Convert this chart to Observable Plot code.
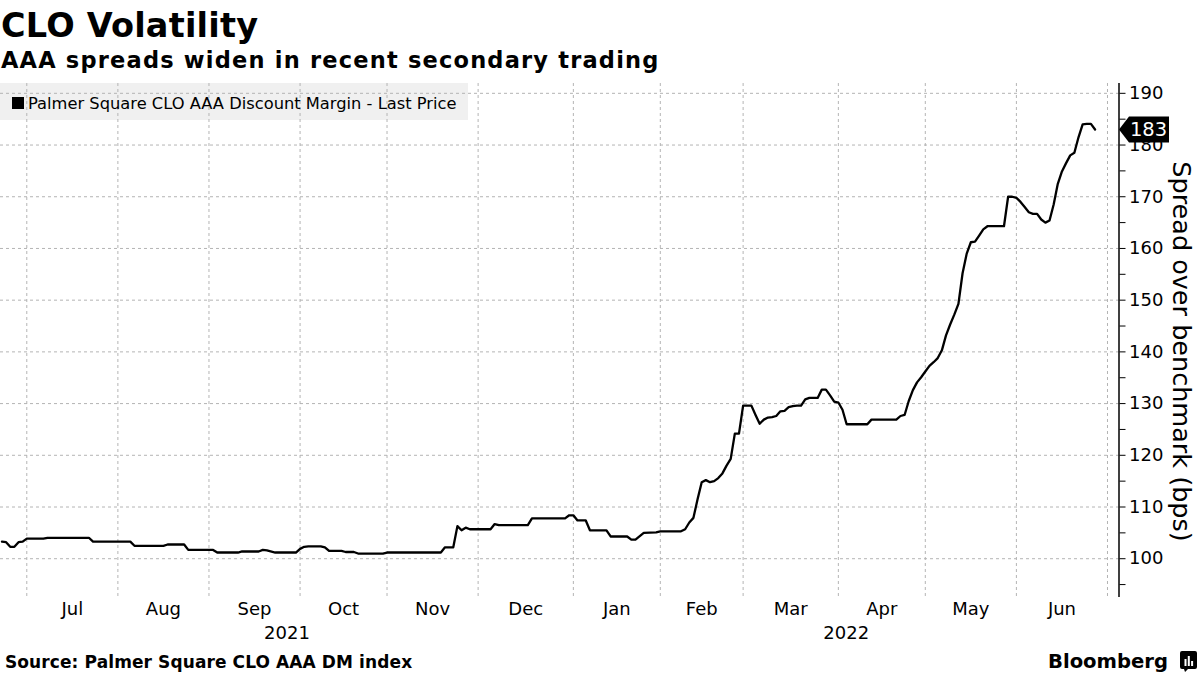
<!DOCTYPE html>
<html>
<head>
<meta charset="utf-8">
<script src="https://cdn.jsdelivr.net/npm/d3@7"></script>
<script src="https://cdn.jsdelivr.net/npm/@observablehq/plot@0.6"></script>
<style>
  html, body { margin: 0; padding: 0; background: #fff; }
  #wrap { position: relative; width: 1200px; height: 675px; overflow: hidden; font-family: "DejaVu Sans", sans-serif; }
  #bg, #fg { position: absolute; left: 0; top: 0; }
  #chart { position: absolute; left: 0; top: 0; }
  #fg { pointer-events: none; }
</style>
</head>
<body>
<div id="wrap">
  <svg id="bg" width="1200" height="675">
    <rect x="0" y="83" width="468" height="37" fill="#f0f0f0"></rect>
  </svg>
  <div id="chart"></div>
  <svg id="fg" width="1200" height="675" font-family="DejaVu Sans, sans-serif">
    <text x="1" y="37" font-size="33.5" font-weight="bold" letter-spacing="0.2">CLO Volatility</text>
    <text x="1" y="68" font-size="22.5" font-weight="bold" letter-spacing="1.2">AAA spreads widen in recent secondary trading</text>
    <rect x="12" y="97" width="12" height="12" fill="#000"></rect>
    <text x="28" y="108.5" font-size="16.3">Palmer Square CLO AAA Discount Margin - Last Price</text>
    <text x="5" y="668" font-size="17" font-weight="bold" letter-spacing="0.1">Source: Palmer Square CLO AAA DM index</text>
    <text x="1048" y="668" font-size="19.6" font-weight="bold">Bloomberg</text>
    <g>
      <path d="M1182,651 h13 a2,2 0 0 1 2,2 v14 a2,2 0 0 1 -2,2 h-7 l-3,3 l-1,-3 h-2 a2,2 0 0 1 -2,-2 v-14 a2,2 0 0 1 2,-2 z" fill="#000"></path>
      <rect x="1184.5" y="659" width="2" height="7" fill="#fff"></rect>
      <rect x="1187.8" y="656" width="2" height="10" fill="#fff"></rect>
      <rect x="1191.1" y="661" width="2" height="5" fill="#fff"></rect>
    </g>
  </svg>
</div>
<script>
// ---- data ----
const dates = [
"2021-06-23","2021-06-24","2021-06-25","2021-06-28","2021-06-29","2021-06-30",
"2021-07-01","2021-07-07","2021-07-08","2021-07-22","2021-07-23",
"2021-08-05","2021-08-06","2021-08-17","2021-08-18","2021-08-24","2021-08-25",
"2021-09-02","2021-09-03","2021-09-10","2021-09-13","2021-09-17","2021-09-20","2021-09-21","2021-09-23","2021-09-30",
"2021-10-01","2021-10-04","2021-10-05","2021-10-08","2021-10-11","2021-10-12","2021-10-15","2021-10-18","2021-10-20","2021-10-21","2021-10-29",
"2021-11-01","2021-11-18","2021-11-19","2021-11-23","2021-11-24","2021-11-25","2021-11-26","2021-11-29",
"2021-12-06","2021-12-07","2021-12-08","2021-12-17","2021-12-20","2021-12-30","2021-12-31",
"2022-01-03","2022-01-04","2022-01-06","2022-01-07","2022-01-13","2022-01-14","2022-01-20","2022-01-21","2022-01-24","2022-01-26","2022-01-31",
"2022-02-01","2022-02-08","2022-02-09","2022-02-10","2022-02-11","2022-02-14","2022-02-15","2022-02-16","2022-02-17","2022-02-18","2022-02-21","2022-02-22","2022-02-23","2022-02-24","2022-02-25","2022-02-28",
"2022-03-01","2022-03-02","2022-03-03","2022-03-04","2022-03-07","2022-03-08","2022-03-09","2022-03-10","2022-03-11","2022-03-14","2022-03-15","2022-03-16","2022-03-17","2022-03-18","2022-03-21","2022-03-22","2022-03-23","2022-03-24","2022-03-25","2022-03-28","2022-03-29","2022-03-30","2022-03-31",
"2022-04-01","2022-04-04","2022-04-05","2022-04-12","2022-04-13","2022-04-21","2022-04-22","2022-04-25","2022-04-26","2022-04-27","2022-04-28","2022-04-29",
"2022-05-02","2022-05-03","2022-05-04","2022-05-05","2022-05-06","2022-05-09","2022-05-10","2022-05-11","2022-05-12","2022-05-13","2022-05-16","2022-05-17","2022-05-18","2022-05-19","2022-05-20","2022-05-23","2022-05-27","2022-05-30","2022-05-31",
"2022-06-01","2022-06-02","2022-06-03","2022-06-06","2022-06-07","2022-06-08","2022-06-09","2022-06-10","2022-06-13","2022-06-14","2022-06-15","2022-06-16","2022-06-17","2022-06-20","2022-06-21","2022-06-22","2022-06-23","2022-06-24","2022-06-27","2022-06-28"
];
const values = [
103.3,103.2,102.3,102.3,103.2,103.3,
103.9,103.9,104.05,104.05,103.3,
103.3,102.5,102.5,102.75,102.75,101.7,
101.7,101.2,101.2,101.4,101.4,101.7,101.6,101.2,101.2,
101.9,102.3,102.4,102.4,102.2,101.5,101.5,101.3,101.3,101.0,101.0,
101.2,101.2,102.2,102.2,106.3,105.5,106.0,105.7,
105.7,106.7,106.5,106.5,107.8,107.8,108.4,
108.4,107.4,107.4,105.5,105.5,104.3,104.3,103.7,103.7,105.0,105.1,
105.3,105.3,105.7,107.0,107.9,111.5,114.8,115.2,114.8,115.0,115.6,116.5,118.0,119.3,124.2,124.2,
129.6,129.6,129.6,127.8,126.1,126.9,127.3,127.4,127.6,128.5,128.6,129.3,129.5,129.6,129.6,130.8,131.1,131.1,131.1,132.7,132.7,131.6,130.4,
130.2,128.8,126.0,126.0,126.9,126.9,127.6,127.8,130.5,132.6,134.1,135.1,
136.2,137.3,138.0,138.8,140.3,143.2,145.3,147.2,149.3,155.2,159.0,161.2,161.3,162.5,163.7,164.3,164.3,170.0,170.0,
169.8,169.0,168.0,167.0,166.7,166.7,165.6,165.0,165.4,168.5,172.5,174.9,176.5,178.0,178.5,181.5,184.0,184.1,184.1,183.0
];
const monthLabels = ["Jul","Aug","Sep","Oct","Nov","Dec","Jan","Feb","Mar","Apr","May","Jun"];
const yearLabels = ["2021","2022"];
const yTicks = [100,110,120,130,140,150,160,170,180,190];
const yMinorTicks = [95,105,115,125,135,145,155,165,175,185];
const yLabel = "Spread over benchmark (bps)";

// ---- helpers ----
const REF = Date.UTC(2021, 0, 4); // a Monday
function wd(date) { // trading-day (weekday) index
  const days = Math.round((+date - REF) / 864e5);
  const w = Math.floor(days / 7);
  const r = days - 7 * w;
  return w * 5 + Math.min(r, 5);
}
const data = dates.map((d, i) => ({date: new Date(d + "T00:00:00Z"), v: values[i]}));
const last = data[data.length - 1];

const jul1 = wd(new Date(Date.UTC(2021, 6, 1)));
const xDomain = [jul1 - 6.35, jul1 + 263.78];

const monthStarts = d3.utcMonths(new Date(Date.UTC(2021, 6, 1)), new Date(Date.UTC(2022, 6, 2)));
const monthData = monthLabels.map((label, i) => ({
  label, mid: (wd(monthStarts[i]) + wd(monthStarts[i + 1])) / 2
}));
const yearBreak = wd(new Date(Date.UTC(2022, 0, 1)));
const yearData = [
  {label: yearLabels[0], mid: (xDomain[0] + yearBreak) / 2},
  {label: yearLabels[1], mid: (yearBreak + xDomain[1]) / 2}
];

const tagSymbol = {
  draw(ctx) {
    ctx.moveTo(0, 0);
    ctx.lineTo(10, -13);
    ctx.lineTo(50, -13);
    ctx.lineTo(50, 13);
    ctx.lineTo(10, 13);
    ctx.closePath();
  }
};

const grid = {stroke: "#b4b4b4", strokeWidth: 1, strokeDasharray: "3,3"};

const chart = Plot.plot({
  width: 1200,
  height: 675,
  marginLeft: 0,
  marginRight: 81.5,
  marginTop: 83,
  marginBottom: 78,
  style: {background: "transparent", fontFamily: "DejaVu Sans, sans-serif", fontSize: "18px", color: "#000"},
  x: {type: "linear", domain: xDomain, axis: null},
  y: {domain: [92.5, 191.9]},
  marks: [
    Plot.ruleY(yTicks, grid),
    Plot.ruleX(monthStarts.map(wd), grid),
    Plot.line(data, {x: d => wd(d.date), y: "v", stroke: "#000", strokeWidth: 2.3, strokeLinejoin: "round"}),
    Plot.ruleX([xDomain[1]], {stroke: "#000", strokeWidth: 1.5}),
    Plot.axisY({anchor: "right", ticks: yMinorTicks, tickSize: 6, tickFormat: () => "", label: null}),
    Plot.axisY({anchor: "right", ticks: yTicks, tickSize: 6, tickPadding: 4, fontSize: 18, label: null}),
    Plot.text([yLabel], {frameAnchor: "right", text: d => d, rotate: 90, dx: 62, dy: 11, fontSize: 25.5, textAnchor: "middle"}),
    Plot.text(monthData, {x: "mid", frameAnchor: "bottom", text: "label", dy: 17, fontSize: 18}),
    Plot.text(yearData, {x: "mid", frameAnchor: "bottom", text: "label", dy: 41, fontSize: 18}),
    Plot.dot([last], {y: "v", frameAnchor: "right", symbol: tagSymbol, fill: "#000", stroke: null}),
    Plot.text([last], {y: "v", frameAnchor: "right", text: d => String(Math.round(d.v)), dx: 29.5, fill: "#fff", fontSize: 19.5, textAnchor: "middle"})
  ]
});
document.getElementById("chart").appendChild(chart);
</script>
</body>
</html>
